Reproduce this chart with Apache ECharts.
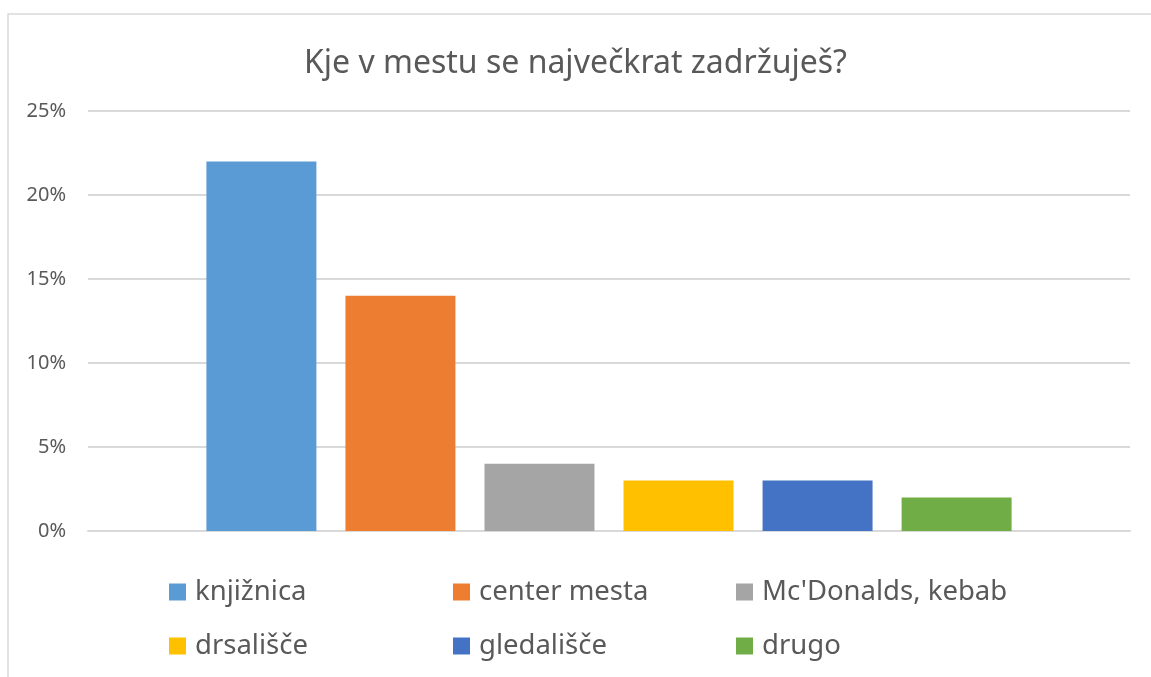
<!DOCTYPE html>
<html>
<head>
<meta charset="utf-8">
<title>Kje v mestu se največkrat zadržuješ?</title>
<script src="https://cdn.jsdelivr.net/npm/echarts@6/dist/echarts.min.js"></script>
<style>
  html, body { margin: 0; padding: 0; background: #fff; }
  #chart { width: 1151px; height: 677px; }
</style>
</head>
<body>
<div id="chart"></div>
<script>
// podatki
const names = ['knjižnica', 'center mesta', "Mc'Donalds, kebab", 'drsališče', 'gledališče', 'drugo'];
const values = [0.22, 0.14, 0.04, 0.03, 0.03, 0.02];
const colors = ['#5B9BD5', '#ED7D31', '#A5A5A5', '#FFC000', '#4472C4', '#70AD47'];
const yTicks = [0, 0.05, 0.10, 0.15, 0.20, 0.25];

// legenda: 3 stolpci, 2 vrstici
const legendLeft = [169, 453, 736];
const legendTop = [577, 631];

const font = '"Noto Sans", "Open Sans", sans-serif';
const chart = echarts.init(document.getElementById('chart'));

const legends = names.map((n, i) => ({
  data: [n],
  left: legendLeft[i % 3],
  top: legendTop[Math.floor(i / 3)],
  padding: 0,
  icon: 'rect',
  itemWidth: 17,
  itemHeight: 17,
  selectedMode: false,
  textStyle: { fontFamily: font, fontSize: 27.5, color: '#595959', lineHeight: 30, padding: [0, 0, 0, 4] }
}));

const option = {
  animation: false,
  color: colors,
  title: {
    text: 'Kje v mestu se največkrat zadržuješ?',
    left: 'center',
    top: 43,
    textStyle: { fontFamily: font, fontSize: 32, fontWeight: 'normal', color: '#595959' }
  },
  graphic: [{
    type: 'rect',
    shape: { x: 8, y: 14, width: 1300, height: 900 },
    style: { fill: 'none', stroke: '#d9d9d9', lineWidth: 1.5 },
    silent: true
  }],
  legend: legends,
  grid: { left: 88, right: 21, top: 111, bottom: 146 },
  xAxis: {
    type: 'category',
    data: [''],
    axisLine: { lineStyle: { color: '#d9d9d9', width: 2 } },
    axisTick: { show: false },
    axisLabel: { show: false }
  },
  yAxis: {
    type: 'value',
    min: yTicks[0],
    max: yTicks[yTicks.length - 1],
    interval: 0.05,
    axisLine: { show: false },
    axisTick: { show: false },
    axisLabel: {
      fontFamily: font, fontSize: 20, color: '#595959', margin: 22,
      formatter: v => Math.round(v * 100) + '%'
    },
    splitLine: { lineStyle: { color: '#d9d9d9', width: 2 } }
  },
  series: names.map((n, i) => ({
    name: n,
    type: 'bar',
    data: [values[i]],
    barWidth: 110,
    barGap: '26.4%'
  }))
};
chart.setOption(option);
</script>
</body>
</html>
